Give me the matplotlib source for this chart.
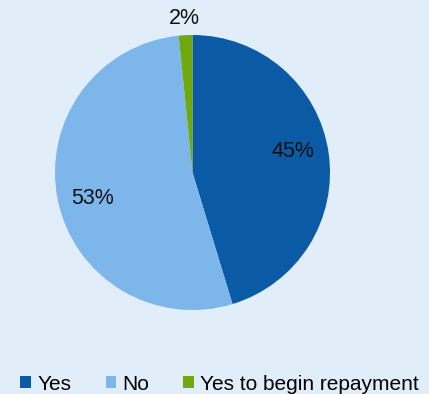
import numpy as np
import matplotlib
matplotlib.use("Agg")
import matplotlib.pyplot as plt
from matplotlib.patches import Patch

labels = ["Yes", "No", "Yes to begin repayment"]
values = [45.3, 53.1, 1.6]
colors = ["#0A5AA5", "#7CB6EB", "#70A80E"]
bg = "#E1EDF9"

plt.rcParams["font.family"] = ["Liberation Sans", "DejaVu Sans"]

W, H = 429, 394
fig = plt.figure(figsize=(W / 100, H / 100), dpi=100, facecolor=bg)

cx, cy, r = 192.5, 172.5, 137.5
ax = fig.add_axes([(cx - r) / W, (H - cy - r) / H, 2 * r / W, 2 * r / H])
ax.set_facecolor(bg)

wedges, _ = ax.pie(values, colors=colors, startangle=90, counterclock=False,
                   radius=1.0, wedgeprops=dict(linewidth=0))
ax.set_xlim(-1, 1)
ax.set_ylim(-1, 1)
ax.set_aspect("equal")
ax.axis("off")

# percentage labels: inside for large slices, outside for the small one
total = sum(values)
start = 90.0
for v in values:
    share = v / total
    sweep = 360.0 * share
    mid = start - sweep / 2
    if share > 0.05:
        ang, dist = np.deg2rad(mid + 3.5), 0.75
    else:
        ang, dist = np.deg2rad(mid), 1.12
    ax.text(dist * np.cos(ang), dist * np.sin(ang), f"{100 * share:.0f}%",
            ha="center", va="center", fontsize=15.5, color="#111111")
    start -= sweep

handles = [Patch(facecolor=c, edgecolor="none", label=l) for c, l in zip(colors, labels)]
fig.legend(handles=handles, loc="center", bbox_to_anchor=(0.512, 1 - 384 / H), ncol=3,
           frameon=False, fontsize=15, handlelength=0.5, handleheight=0.5,
           handletextpad=0.3, columnspacing=1.65, borderaxespad=0)

fig.savefig("out.png", dpi=100, facecolor=bg)
